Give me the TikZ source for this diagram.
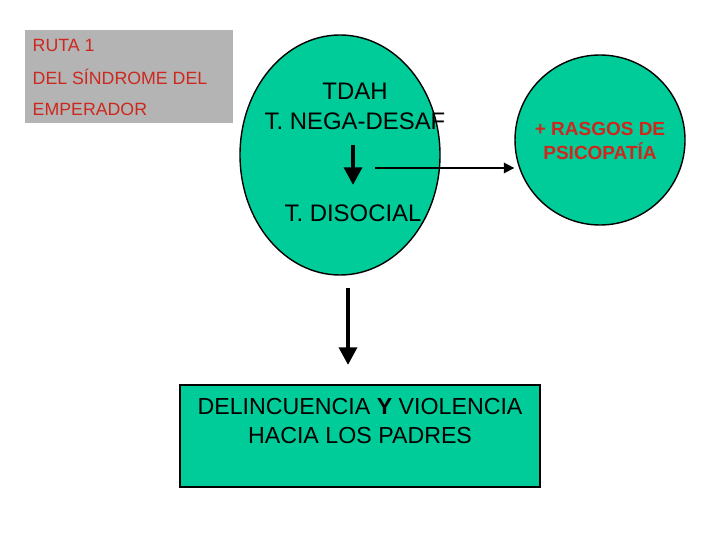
\documentclass[tikz,border=0pt]{standalone}
\usepackage{fontspec}
\setmainfont{Liberation Sans}
\usepackage{tikz}
\usetikzlibrary{positioning,arrows.meta,shapes.geometric}
\definecolor{verde}{RGB}{0,204,153}
\definecolor{rojo}{RGB}{204,40,30}
\definecolor{gris}{RGB}{180,180,180}
\tikzset{
  grande/.style={font=\fontsize{6.8pt}{8.5pt}\selectfont,align=center},
  roja/.style={text=rojo,font=\fontsize{5.05pt}{6pt}\selectfont,anchor=west,inner sep=0pt},
  gruesa/.style={line width=1.2pt,-{Triangle[length=5pt,width=5pt]}}
}
\begin{document}
\begin{tikzpicture}
		\useasboundingbox (0,0) rectangle (7.2,5.4);
		\node[fill=gris,minimum width=2.08cm,minimum height=0.93cm,inner sep=0pt] (ruta) at (1.29,4.635) {};
		\node[roja] (r1) at (0.32,4.95) {RUTA 1};
		\node[roja] (r2) at (0.32,4.63) {DEL SÍNDROME DEL};
		\node[roja] (r3) at (0.32,4.31) {EMPERADOR};
		\node[draw,fill=verde,ellipse,minimum width=2.0cm,minimum height=2.4cm,inner sep=0pt] (tdah) at (3.40,3.85) {};
		\node[grande] (t1) at (3.55,4.34) {TDAH\\T. NEGA-DESAF};
		\node[grande] (t2) at (3.53,3.27) {T. DISOCIAL};
		\coordinate (a1) at (3.53,3.95);
		\coordinate (a2) at (3.53,3.55);
		\draw[gruesa] (a1) -- (a2);
		\node[draw,fill=verde,circle,minimum size=1.7cm,inner sep=0pt] (psi) at (6.00,4.00) {};
		\node[text=rojo,font=\bfseries\fontsize{5.4pt}{7pt}\selectfont,align=center] (p1) at (6.00,3.99) {+ RASGOS DE\\PSICOPATÍA};
		\coordinate (b1) at (3.75,3.72);
		\draw[-{Triangle[length=3pt,width=3pt]},line width=0.5pt] (b1) -- (b1 -| psi.west);
		\coordinate (c1) at (3.48,2.52);
		\coordinate (c2) at (3.48,1.75);
		\draw[gruesa] (c1) -- (c2);
		\node[draw,fill=verde,minimum width=3.6cm,minimum height=1.02cm,inner sep=0pt] (del) at (3.60,1.04) {};
		\node[grande,font=\fontsize{6.6pt}{8.2pt}\selectfont] (d1) at (3.60,1.19) {DELINCUENCIA \textbf{Y} VIOLENCIA\\HACIA LOS PADRES};
	\end{tikzpicture}
\end{document}
